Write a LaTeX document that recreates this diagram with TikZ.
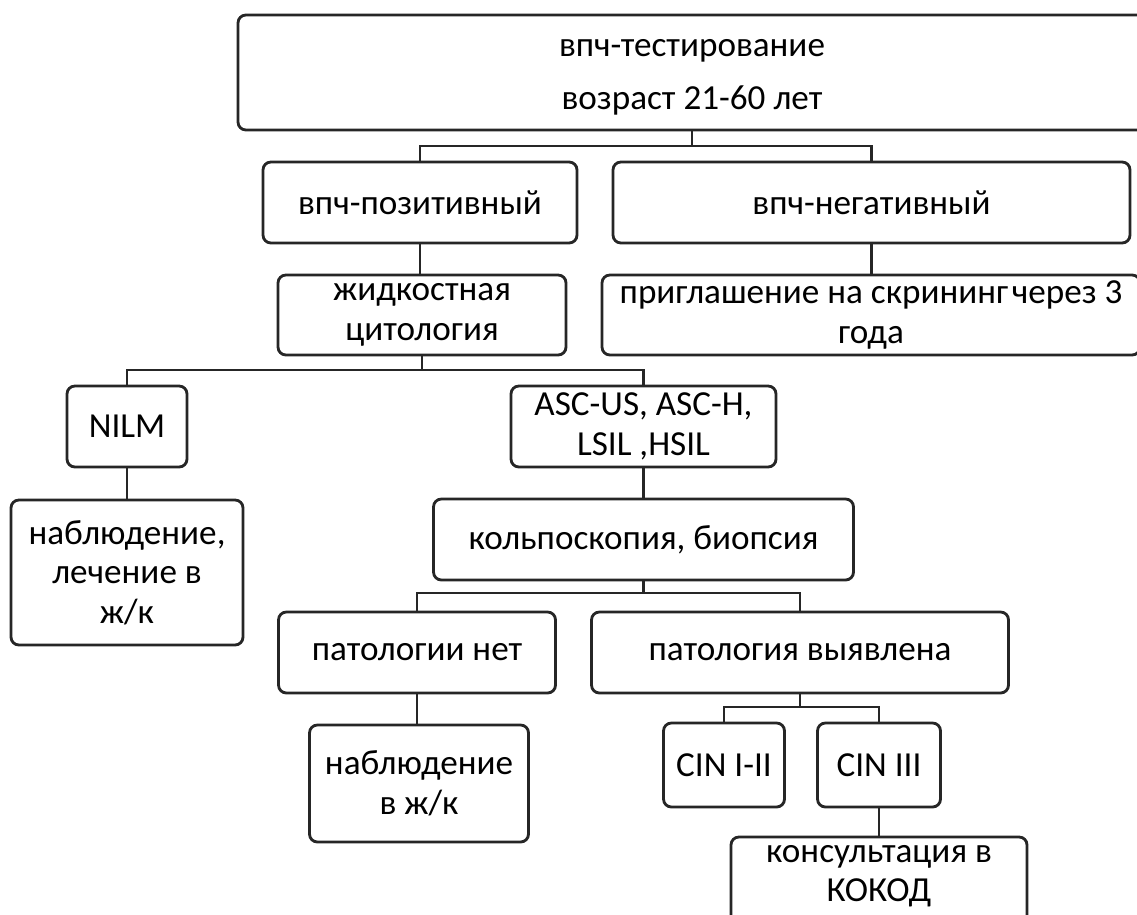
\documentclass[tikz,border=0pt]{standalone}
\usepackage{fontspec}
\setmainfont{Carlito}
\usetikzlibrary{positioning}

\tikzset{
  box/.style={draw=black!85, line width=1.6pt, rounded corners=4.5pt, align=center,
    inner sep=1pt, outer sep=0pt, font=\fontsize{20}{22.5}\selectfont},
  link/.style={draw=black!85, line width=1.6pt},
}

\begin{document}
\begin{tikzpicture}
    \useasboundingbox (0,0) rectangle (22.74,-18.3);

    \node[box, minimum width=18.16cm, minimum height=2.3cm] (test) at (13.84,-1.45) {\rule{0pt}{15pt}впч-тестирование\\[8pt]возраст 21-60 лет};
    \node[box, minimum width=6.28cm, minimum height=1.62cm, below=0.64cm of test, xshift=-5.44cm] (pos) {впч-позитивный};
    \node[box, minimum width=10.34cm, minimum height=1.62cm, right=0.72cm of pos] (neg) {впч-негативный};
    \node[box, minimum width=5.76cm, minimum height=1.6cm, below=0.64cm of pos, xshift=0.04cm] (cyto) {жидкостная\\цитология};
    \node[box, minimum width=10.76cm, minimum height=1.6cm, right=0.72cm of cyto] (invite) {приглашение на скрининг\hspace{2pt}через 3\\года};
    \node[box, minimum width=2.4cm, minimum height=1.62cm, below=0.62cm of cyto, xshift=-5.9cm] (nilm) {NILM};
    \node[box, minimum width=5.3cm, minimum height=1.62cm, right=6.48cm of nilm] (asc) {ASC-US, ASC-H,\\LSIL ,HSIL};
    \node[box, minimum width=4.64cm, minimum height=2.9cm, below=0.66cm of nilm] (watch) {наблюдение,\\лечение в\\ж/к};
    \node[box, minimum width=8.4cm, minimum height=1.62cm, below=0.64cm of asc] (colpo) {кольпоскопия, биопсия};
    \node[box, minimum width=5.54cm, minimum height=1.62cm, below=0.64cm of colpo, xshift=-4.53cm] (nopat) {патологии нет};
    \node[box, minimum width=8.34cm, minimum height=1.62cm, right=0.72cm of nopat] (pat) {патология выявлена};
    \node[box, minimum width=4.38cm, minimum height=2.34cm, below=0.64cm of nopat, xshift=0.04cm] (watchk) {наблюдение\\в ж/к};
    \node[box, minimum width=2.42cm, minimum height=1.68cm, below=0.6cm of pat, xshift=-1.52cm] (cinlow) {CIN I-II};
    \node[box, minimum width=2.46cm, minimum height=1.68cm, right=0.66cm of cinlow] (cinhigh) {CIN III};
    \node[box, minimum width=5.92cm, minimum height=1.9cm, below=0.6cm of cinhigh] (kokod) {консультация в\\КОКОД\rule[-12.5pt]{0pt}{0pt}};

    % branches
    \draw[link] (test.south) -- ++(0,-0.32) -| (pos.north);
    \draw[link] (test.south) -- ++(0,-0.32) -| (neg.north);
    \draw[link] (cyto.south) -- ++(0,-0.3) -| (nilm.north);
    \draw[link] (cyto.south) -- ++(0,-0.3) -| (asc.north);
    \draw[link] (colpo.south) -- ++(0,-0.26) -| (nopat.north);
    \draw[link] (colpo.south) -- ++(0,-0.26) -| (pat.north);
    \draw[link] (pat.south) -- ++(0,-0.28) -| (cinlow.north);
    \draw[link] (pat.south) -- ++(0,-0.28) -| (cinhigh.north);

    % single links
    \draw[link] (pos.south) -- (pos.south |- cyto.north);
    \draw[link] (neg.south) -- (neg.south |- invite.north);
    \draw[link] (nilm.south) -- (nilm.south |- watch.north);
    \draw[link] (asc.south) -- (asc.south |- colpo.north);
    \draw[link] (nopat.south) -- (nopat.south |- watchk.north);
    \draw[link] (cinhigh.south) -- (cinhigh.south |- kokod.north);
\end{tikzpicture}
\end{document}
